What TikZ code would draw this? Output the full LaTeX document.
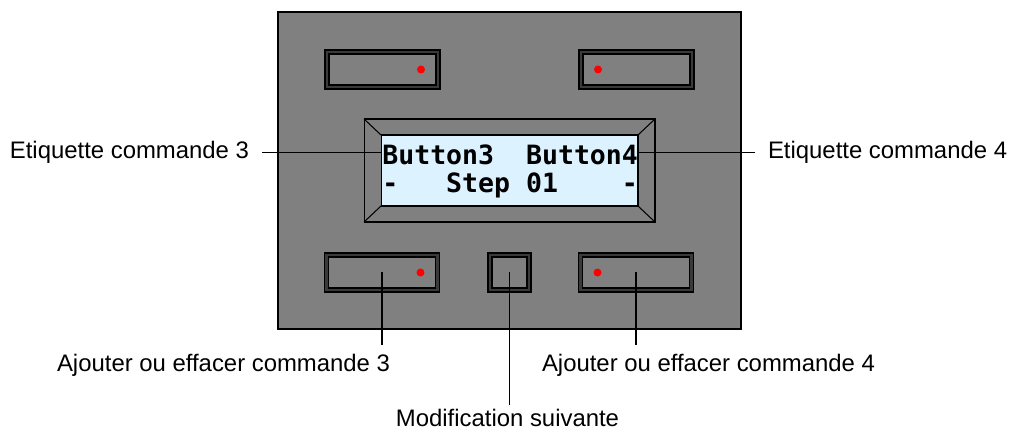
\documentclass[tikz,border=0pt]{standalone}
\usepackage{fontspec}
\setmainfont{Liberation Sans}
\newfontfamily\lcdfont{DejaVu Sans Mono}
\usetikzlibrary{positioning}

\definecolor{panelgray}{RGB}{128,128,128}
\definecolor{bandgray}{RGB}{58,58,58}
\definecolor{lcdblue}{RGB}{221,242,255}

\newcommand\gap{\hphantom{0}}

\begin{document}
\begin{tikzpicture}[
    x=0.02cm, y=-0.02cm,
    panel/.style={rectangle, draw=black, line width=0.8pt, fill=panelgray, minimum width=9.26cm, minimum height=6.34cm, inner sep=0},
    knob/.style={rectangle, draw=black, double=bandgray, double distance=1.4pt, line width=0.8pt, fill=panelgray, minimum width=2.22cm, minimum height=0.70cm, inner sep=0, outer sep=0},
    smallknob/.style={knob, minimum width=0.78cm},
    led/.style={circle, fill=red, minimum size=0.16cm, inner sep=0},
    bezel/.style={rectangle, draw=black, line width=0.6pt, fill=panelgray, minimum width=5.82cm, minimum height=2.06cm, inner sep=0, outer sep=0},
    screen/.style={rectangle, draw=black, line width=0.6pt, fill=lcdblue, minimum width=5.14cm, minimum height=1.42cm, inner sep=0, outer sep=0},
    lcdrow/.style={font=\lcdfont\bfseries\fontsize{15.1}{18}\selectfont, anchor=base west, inner sep=0},
    callout/.style={font=\fontsize{13.6}{16}\selectfont, inner sep=0, outer sep=0},
    leader/.style={draw=black, line width=0.6pt}
]
\useasboundingbox (0,0) rectangle (1010,431);

% Front panel
\node[panel] (box) at (509.5,170.5) {};

% Push buttons
\node[knob] (b1) at (382.5,69.5) {};
\node[knob] (b2) at (636.5,69.5) {};
\node[knob] (b3) at (382,272.5) {};
\node[smallknob] (next) at (509.5,272.5) {};
\node[knob] (b4) at (636,272.5) {};

% LEDs
\node[led] (l1) at ([xshift=-0.34cm]b1.east) {};
\node[led] (l2) at ([xshift=0.34cm]b2.west) {};
\node[led] (l3) at ([xshift=-0.34cm]b3.east) {};
\node[led] (l4) at ([xshift=0.34cm]b4.west) {};

% Display
\node[bezel] (lcd) at (509.5,170.5) {};
\node[screen] (scr) at (509.5,170.5) {};
\foreach \c in {north west, north east, south west, south east}
    \draw[line width=0.6pt] (lcd.\c) -- (scr.\c);
\node[lcdrow] (row1) at (382,165) {Button3\gap\gap Button4};
\node[lcdrow] (row2) at (382,193) {-\gap\gap\gap Step\gap 01\gap\gap\gap\gap -};

% Callouts
\node[callout, anchor=base east] (t3) at (249,159) {Etiquette commande 3};
\node[callout, anchor=base west] (t4) at (768,159) {Etiquette commande 4};
\node[callout, anchor=base east] (a3) at (390,372) {Ajouter ou effacer commande 3};
\node[callout, anchor=base west] (a4) at (542,372) {Ajouter ou effacer commande 4};
\node[callout, anchor=base] (mod) at (507.5,427) {Modification suivante};

% Leaders
\draw[leader, shorten <=0.26cm] (t3.east) -- (t3.east -| scr.west);
\draw[leader, shorten <=0.26cm] (t4.west) -- (t4.west -| scr.east);
\draw[leader, shorten >=0.19cm] (b3.center) -- (b3.center |- a3.north);
\draw[leader, shorten >=0.19cm] (b4.center) -- (b4.center |- a4.north);
\draw[leader, shorten >=0.09cm] (next.center) -- (next.center |- mod.north);

\end{tikzpicture}
\end{document}
